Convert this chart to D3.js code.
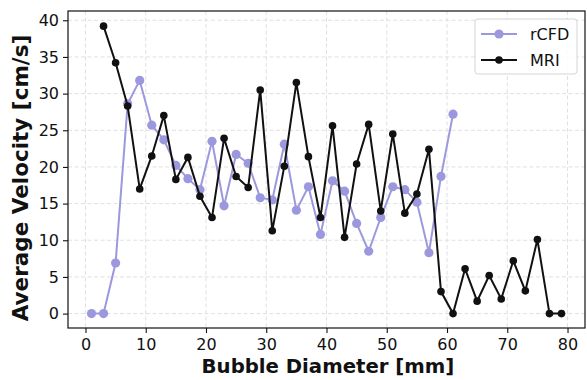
<!DOCTYPE html>
<html>
<head>
<meta charset="utf-8">
<script src="https://cdn.jsdelivr.net/npm/d3@7"></script>
<style>
  body { margin: 0; background: #fff; }
  svg { font-family: 'DejaVu Sans', sans-serif; }
</style>
</head>
<body>
<svg id="chart" width="587" height="380"></svg>
<script>
// bubble diameters [mm]
const cfdDiam = d3.range(1, 62, 2);
const cfdVel = [0, 0, 6.9, 28.6, 31.8, 25.7, 23.7, 20.2, 18.4, 16.9, 23.5, 14.7,
  21.7, 20.5, 15.8, 15.5, 23.1, 14.1, 17.3, 10.8, 18.1, 16.7, 12.3, 8.5, 13.1,
  17.3, 16.9, 15.2, 8.3, 18.7, 27.2];

const mriDiam = d3.range(3, 80, 2);
const mriVel = [39.2, 34.2, 28.3, 17.0, 21.5, 27.0, 18.3, 21.3, 16.0, 13.1, 23.9,
  18.7, 17.2, 30.5, 11.3, 20.1, 31.5, 21.4, 13.1, 25.6, 10.4, 20.4, 25.8, 14.0,
  24.5, 13.7, 16.3, 22.4, 3.0, 0, 6.1, 1.7, 5.2, 2.0, 7.2, 3.1, 10.1, 0, 0];

const xTicks = [0, 10, 20, 30, 40, 50, 60, 70, 80];
const yTicks = [0, 5, 10, 15, 20, 25, 30, 35, 40];

const mLeft = 68, mRight = 585, mTop = 11, mBottom = 328;
const svg = d3.select('#chart');

const x = d3.scaleLinear().domain([-2.9, 82.9]).range([mLeft, mRight]);
const y = d3.scaleLinear().domain([-1.965, 41.265]).range([mBottom, mTop]);

// grid
const grid = svg.append('g');
grid.selectAll('.gx').data(xTicks).enter().append('line')
    .attr('x1', d => x(d)).attr('x2', d => x(d))
    .attr('y1', mTop).attr('y2', mBottom)
    .attr('stroke', '#dcdcdc').attr('stroke-dasharray', '4,2.5').attr('stroke-width', 0.9);
grid.selectAll('.gy').data(yTicks).enter().append('line')
    .attr('y1', d => y(d)).attr('y2', d => y(d))
    .attr('x1', mLeft).attr('x2', mRight)
    .attr('stroke', '#dcdcdc').attr('stroke-dasharray', '4,2.5').attr('stroke-width', 0.9);

// axes
const xAxis = svg.append('g')
    .attr('transform', 'translate(0,' + mBottom + ')')
    .call(d3.axisBottom(x).tickValues(xTicks).tickSize(5).tickPadding(6));
const yAxis = svg.append('g')
    .attr('transform', 'translate(' + mLeft + ',0)')
    .call(d3.axisLeft(y).tickValues(yTicks).tickSize(5).tickPadding(4));
[xAxis, yAxis].forEach(a => {
    a.select('.domain').remove();
    a.selectAll('text').attr('font-size', 16).attr('fill', '#111')
        .attr('font-family', "'DejaVu Sans', sans-serif");
    a.selectAll('line').attr('stroke', '#111').attr('stroke-width', 1.1);
});

const cfdColor = '#9c98de';
const line = d3.line().x(d => x(d[0])).y(d => y(d[1]));

const cfd = d3.zip(cfdDiam, cfdVel);
const mri = d3.zip(mriDiam, mriVel);

svg.append('path').datum(cfd).attr('d', line)
    .attr('fill', 'none').attr('stroke', cfdColor).attr('stroke-width', 2);
svg.selectAll('.pc').data(cfd).enter().append('circle')
    .attr('cx', d => x(d[0])).attr('cy', d => y(d[1])).attr('r', 4.6)
    .attr('fill', cfdColor);

svg.append('path').datum(mri).attr('d', line)
    .attr('fill', 'none').attr('stroke', '#111').attr('stroke-width', 2);
svg.selectAll('.pm').data(mri).enter().append('circle')
    .attr('cx', d => x(d[0])).attr('cy', d => y(d[1])).attr('r', 3.8)
    .attr('fill', '#111');

// frame
svg.append('rect').attr('x', mLeft).attr('y', mTop)
    .attr('width', mRight - mLeft).attr('height', mBottom - mTop)
    .attr('fill', 'none').attr('stroke', '#111').attr('stroke-width', 1.2);

// legend
const lg = svg.append('g');
lg.append('rect').attr('x', 475).attr('y', 19).attr('width', 102).attr('height', 55)
    .attr('rx', 3).attr('fill', 'rgba(255,255,255,0.85)').attr('stroke', '#d5d5d5');
const items = [['rCFD', cfdColor, 4.6], ['MRI', '#111', 3.8]];
items.forEach((it, i) => {
    const ly = 34 + i * 26;
    lg.append('line').attr('x1', 481).attr('x2', 517).attr('y1', ly).attr('y2', ly)
        .attr('stroke', it[1]).attr('stroke-width', 2);
    lg.append('circle').attr('cx', 499).attr('cy', ly).attr('r', it[2]).attr('fill', it[1]);
    lg.append('text').attr('x', 530).attr('y', ly).attr('dy', '0.36em')
        .attr('font-size', 16).attr('fill', '#111').text(it[0]);
});

// labels
svg.append('text').attr('x', 328).attr('y', 373)
    .attr('text-anchor', 'middle').attr('font-size', 19.7).attr('font-weight', 'bold')
    .attr('fill', '#111').text('Bubble Diameter [mm]');
svg.append('text').attr('transform', 'translate(28,178) rotate(-90)')
    .attr('text-anchor', 'middle').attr('font-size', 21.5).attr('font-weight', 'bold')
    .attr('fill', '#111').text('Average Velocity [cm/s]');
</script>
</body>
</html>
